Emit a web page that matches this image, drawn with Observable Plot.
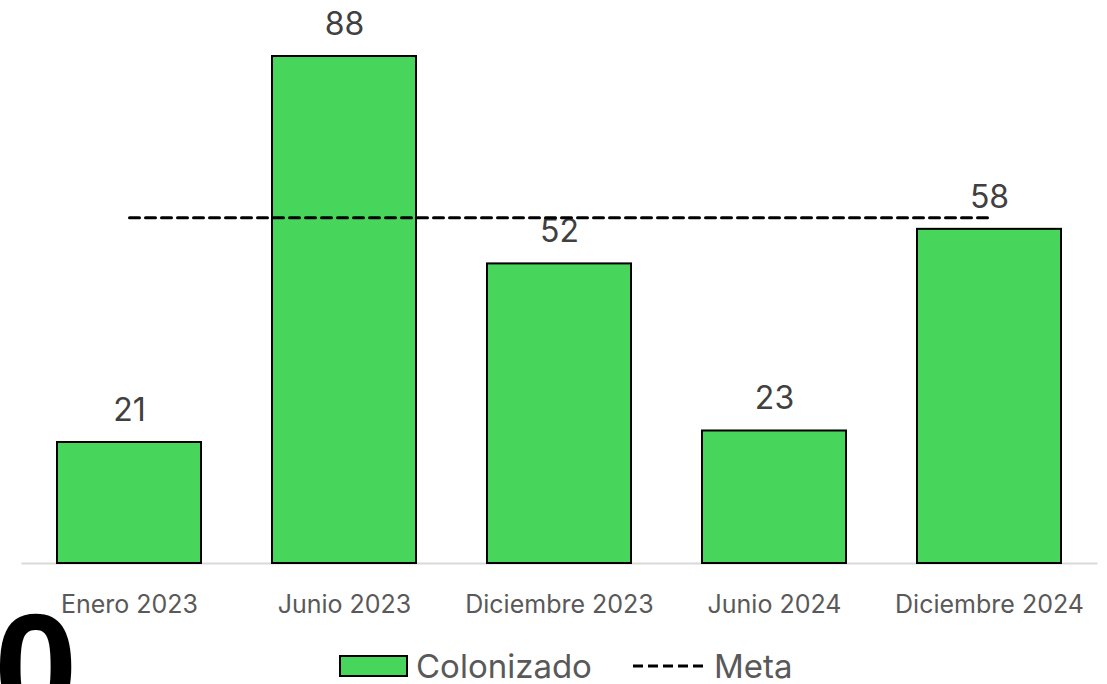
<!DOCTYPE html>
<html>
<head>
<meta charset="utf-8">
<script src="https://cdn.jsdelivr.net/npm/d3@7"></script>
<script src="https://cdn.jsdelivr.net/npm/@observablehq/plot@0.6"></script>
<style>
  html, body { margin: 0; padding: 0; background: #fff; overflow: hidden; }
  body { width: 1107px; height: 684px; position: relative; font-family: Inter, "Open Sans", sans-serif; }
  #legend { position: absolute; top: 649px; left: 0; width: 1107px; height: 34px; color: #595959; font-size: 33px; line-height: 34px; }
  .item { position: absolute; top: 0; height: 34px; display: flex; align-items: center; }
  .swatch { width: 65px; height: 18px; background: #47d65b; border: 2px solid #000; margin-right: 8px; }
  #zero { position: absolute; left: -6px; top: 592px; font: bold 150px "Liberation Sans", Arial, sans-serif; line-height: 150px; color: #000; }
</style>
</head>
<body>
<div id="chart"></div>
<div id="legend">
  <div class="item" style="left:339px"><div class="swatch"></div><span>Colonizado</span></div>
  <div class="item" style="left:632px"><svg width="76" height="6" style="margin-right:6px"><line x1="1" y1="3" x2="75" y2="3" stroke="#000" stroke-width="3" stroke-dasharray="10,5"/></svg><span>Meta</span></div>
</div>
<div id="zero">0</div>
<script>
const categories = ["Enero 2023", "Junio 2023", "Diciembre 2023", "Junio 2024", "Diciembre 2024"];
const colonizado = [21, 88, 52, 23, 58];
const meta = [60, 60, 60, 60, 60];

const data = categories.map((c, i) => ({cat: c, value: colonizado[i], meta: meta[i]}));

const chart = Plot.plot({
  width: 1107,
  height: 645,
  marginTop: 56,
  marginBottom: 82,
  marginLeft: 21.5,
  marginRight: 9.5,
  style: {fontFamily: "Inter, 'Open Sans', sans-serif", background: "#fff"},
  x: {domain: categories, paddingInner: 0.33, paddingOuter: 0.165, label: null, tickSize: 0, tickPadding: 32},
  y: {domain: [0, 88], axis: null},
  marks: [
    Plot.ruleY([0], {stroke: "#d9d9d9", strokeWidth: 2}),
    Plot.barY(data, {x: "cat", y: "value", fill: "#47d65b", stroke: "#000", strokeWidth: 2}),
    Plot.text(data, {x: "cat", y: "value", text: d => String(d.value), dy: -32, fontSize: 32, fill: "#404040"}),
    Plot.line(data, {x: "cat", y: "meta", stroke: "#000", strokeWidth: 3, strokeDasharray: "10,6"}),
    Plot.axisX({tickSize: 0, tickPadding: 32, fontSize: 25, color: "#595959", label: null})
  ]
});
chart.querySelectorAll("[aria-label='x-axis tick label'] text").forEach(t => t.setAttribute("fill", "#595959"));
document.getElementById("chart").appendChild(chart);
</script>
</body>
</html>
